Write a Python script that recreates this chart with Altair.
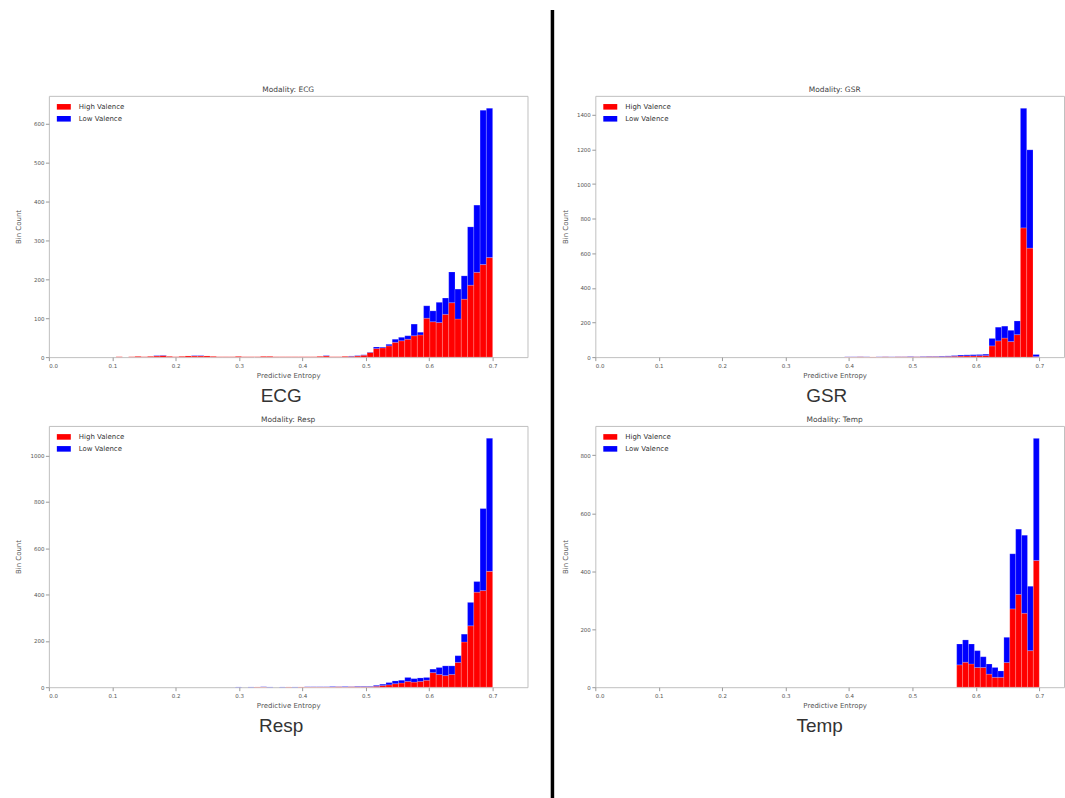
import altair as alt
import pandas as pd

# ---------------- data ----------------
END = 0.70
XTICKS = [0.0, 0.1, 0.2, 0.3, 0.4, 0.5, 0.6, 0.7]
VALENCE = ["High Valence", "Low Valence"]
COLORS = ["#ff0000", "#0000ff"]

# ECG: 61 bins of width 0.0099 ending at 0.70
ecg_width = 0.0099
ecg_high = [0, 1, 0, 1, 2, 1, 2, 3, 4, 2, 1, 2, 3, 3, 3, 3, 2, 1, 1, 1,
            2, 1, 1, 1, 2, 2, 1, 1, 1, 1, 1, 1, 1, 2, 3, 1, 1, 2, 2, 3,
            5, 12, 22, 24, 29, 38, 42, 46, 55, 57, 100, 91, 89, 110, 140, 98, 149, 185, 218, 238, 256]
ecg_low = [0, 0, 0, 0, 0, 0, 0, 1, 1, 0, 0, 0, 0, 1, 1, 0, 0, 0, 0, 0,
           0, 0, 0, 0, 0, 0, 0, 0, 0, 0, 0, 0, 0, 0, 1, 0, 0, 0, 1, 1,
           1, 1, 4, 2, 4, 8, 9, 9, 30, 7, 32, 28, 52, 42, 79, 77, 60, 150, 173, 397, 384]
ecg_yticks = [0, 100, 200, 300, 400, 500, 600]

# GSR: 31 bins
gsr_width = 0.0099
gsr_high = [1, 1, 2, 1, 1, 1, 2, 1, 2, 2, 2, 2, 2, 3, 3,
            3, 4, 5, 6, 7, 7, 8, 9,
            65, 94, 110, 90, 130, 747, 630, 3]
gsr_low = [1, 1, 1, 1, 0, 1, 1, 1, 1, 1, 2, 1, 2, 2, 2,
           3, 3, 4, 6, 6, 7, 7, 8,
           43, 79, 69, 65, 79, 691, 568, 12]
gsr_yticks = [0, 200, 400, 600, 800, 1000, 1200, 1400]

# Resp: 41 bins
resp_width = 0.0099
resp_high = [0, 0, 0, 1, 1, 0, 0, 0, 1, 0, 1, 1, 1, 1, 1, 1, 2, 1, 2, 2, 2,
             2, 4, 7, 10, 15, 18, 25, 22, 25, 30, 63, 55, 50, 55, 107, 195, 265, 410, 417, 500]
resp_low = [1, 0, 1, 0, 1, 1, 0, 1, 0, 1, 0, 1, 1, 1, 1, 2, 1, 2, 1, 2, 2,
            2, 4, 6, 10, 12, 12, 17, 15, 15, 12, 15, 30, 42, 37, 29, 34, 101, 46, 354, 574]
resp_yticks = [0, 200, 400, 600, 800, 1000]

# Temp: 14 bins
temp_width = 0.0093
temp_high = [77, 86, 80, 68, 68, 45, 34, 34, 85, 270, 320, 255, 126, 437]
temp_low = [72, 77, 69, 58, 37, 35, 34, 22, 87, 190, 225, 269, 222, 421]
temp_yticks = [0, 200, 400, 600, 800]

# ---------------- layout constants ----------------
PW_LEFT = 480
PW_RIGHT = 470
PH = 262
FONT = "DejaVu Sans"
LEGEND_SHAPE = "M-1,-0.4L1,-0.4L1,0.4L-1,0.4Z"


def make_df(high, low, width):
    n = len(high)
    rows = []
    for i, (h, l) in enumerate(zip(high, low)):
        s = END - (n - i) * width
        e = s + width
        if h > 0:
            rows.append(dict(start=s, end=e, y0=0, y1=h, valence=VALENCE[0]))
        if l > 0:
            rows.append(dict(start=s, end=e, y0=h, y1=h + l, valence=VALENCE[1]))
    return pd.DataFrame(rows)


def panel(title, label, high, low, width, yticks, plot_w, xmax, label_x, extra=()):
    df = make_df(high, low, width)
    ymax = max(h + l for h, l in zip(high, low)) * 1.05
    bars = alt.Chart(df).mark_bar(
        stroke="white", strokeWidth=0.5, strokeOpacity=0.35
    ).encode(
        x=alt.X("start:Q",
                scale=alt.Scale(domain=[0, xmax], nice=False, zero=False),
                axis=alt.Axis(values=XTICKS, format=".1f", title="Predictive Entropy",
                              titleX=240, titleY=18, titleBaseline="middle",
                              labelPadding=2.5)),
        x2="end:Q",
        y=alt.Y("y0:Q",
                scale=alt.Scale(domain=[0, ymax], nice=False),
                axis=alt.Axis(values=yticks, title="Bin Count", format="d",
                              titleX=-27, titleY=PH / 2)),
        y2="y1:Q",
        color=alt.Color("valence:N",
                        scale=alt.Scale(domain=VALENCE, range=COLORS),
                        legend=alt.Legend(title=None, orient="none", legendX=8, legendY=4,
                                          symbolType=LEGEND_SHAPE, symbolSize=196,
                                          symbolStrokeWidth=0, symbolOpacity=1,
                                          labelFont=FONT, labelFontSize=7,
                                          labelColor="#333", labelOffset=8,
                                          rowPadding=2, padding=0)),
    )
    ttl = alt.Chart(pd.DataFrame({"t": [title]})).mark_text(
        font=FONT, fontSize=7.5, color="#444", baseline="middle"
    ).encode(x=alt.value(240), y=alt.value(-6), text="t:N")
    lab = alt.Chart(pd.DataFrame({"t": [label]})).mark_text(
        font="Liberation Sans", fontSize=19, color="#333", baseline="middle"
    ).encode(x=alt.value(label_x), y=alt.value(PH + 39), text="t:N")
    return alt.layer(bars, ttl, lab, *extra).properties(width=plot_w, height=PH)


divider = alt.Chart(pd.DataFrame({"a": [0]})).mark_rule(
    color="black", strokeWidth=3.5
).encode(x=alt.value(-43), y=alt.value(-86), y2=alt.value(704))

ecg = panel("Modality: ECG", "ECG", ecg_high, ecg_low, ecg_width, ecg_yticks,
            PW_LEFT, 0.755, 233)
resp = panel("Modality: Resp", "Resp", resp_high, resp_low, resp_width, resp_yticks,
             PW_LEFT, 0.755, 233)
gsr = panel("Modality: GSR", "GSR", gsr_high, gsr_low, gsr_width, gsr_yticks,
            PW_RIGHT, 0.739, 232, extra=(divider,))
temp = panel("Modality: Temp", "Temp", temp_high, temp_low, temp_width, temp_yticks,
             PW_RIGHT, 0.739, 225)

chart = alt.concat(
    ecg, gsr, resp, temp, columns=2,
    spacing={"row": 69, "column": 68}, bounds="flush",
).resolve_scale(
    x="independent", y="independent", color="independent"
).resolve_legend(color="independent").properties(
    padding={"left": 14, "top": 6, "right": 0, "bottom": 0},
    background="white",
).configure_view(
    stroke="#c0c0c0", strokeWidth=1
).configure_axis(
    labelFont=FONT, labelFontSize=5.5, labelColor="#555",
    titleFont=FONT, titleFontSize=7, titleFontWeight="normal", titleColor="#555",
    tickColor="#999", tickSize=3.5, labelPadding=1.5, domain=False, grid=False,
)

chart.save("out.html", embed_options={"renderer": "svg", "actions": False})
